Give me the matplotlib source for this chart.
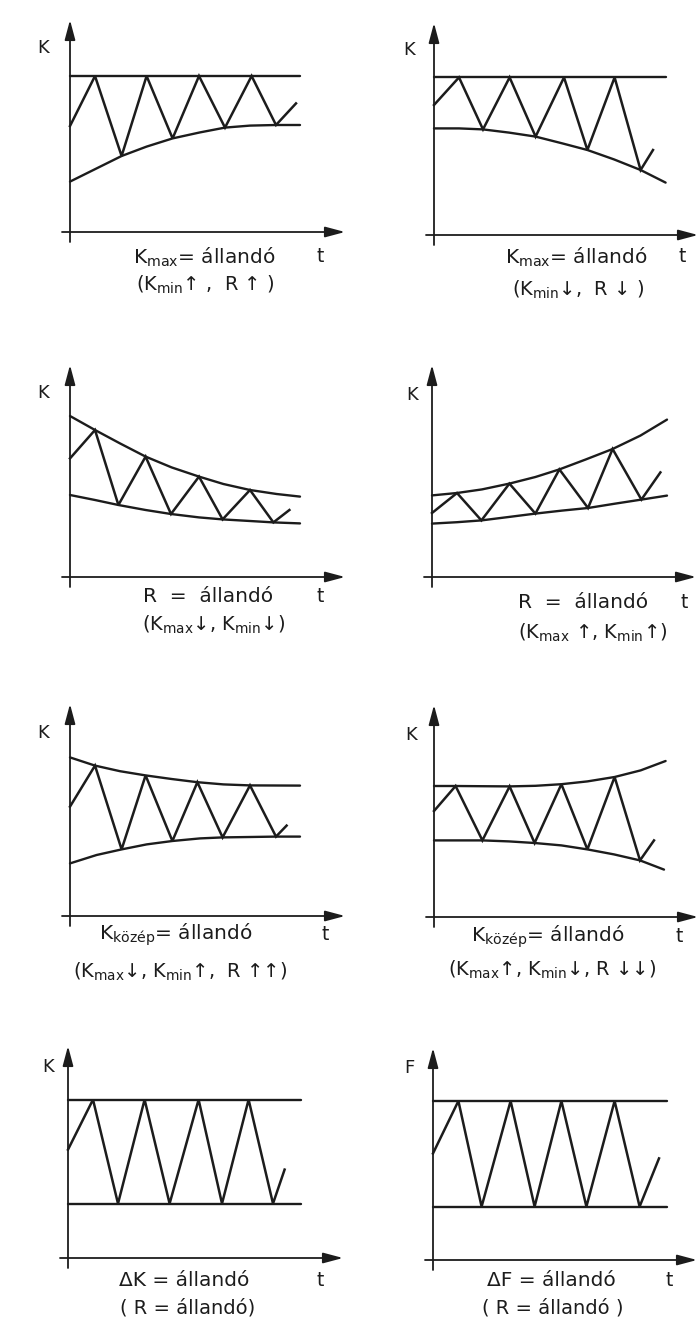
import matplotlib

matplotlib.use("Agg")
import matplotlib.pyplot as plt

# Nyolc vázlat: burkológörbék (felső/alsó) és a köztük futó fűrészfog-jel.
# Idő (t) és érték (K, F) tetszőleges egységekben, paneleként egy-egy lista.

UPPER_T = [
    [0, 11.5],
    [0, 11.58],
    [0, 1.25, 2.5, 3.78, 5.08, 6.45, 7.67, 9.0, 10.33, 11.5],
    [0, 1.25, 2.5, 3.87, 5.17, 6.37, 7.67, 9.03, 10.42, 11.75],
    [0, 1.25, 2.5, 3.78, 5.08, 6.37, 7.67, 9.0, 11.5],
    [0, 1.08, 2.33, 3.78, 5.08, 6.37, 7.67, 9.03, 10.33, 11.58],
    [0, 11.67],
    [0, 11.72],
]
UPPER_K = [
    [7.8, 7.8],
    [7.88, 7.88],
    [8.05, 7.35, 6.68, 6.02, 5.48, 5.02, 4.65, 4.35, 4.15, 4.02],
    [4.08, 4.2, 4.38, 4.67, 5.0, 5.38, 5.87, 6.4, 7.07, 7.87],
    [7.93, 7.52, 7.24, 7.03, 6.85, 6.69, 6.58, 6.53, 6.52],
    [6.55, 6.55, 6.54, 6.53, 6.56, 6.64, 6.78, 7.0, 7.33, 7.8],
    [7.92, 7.92],
    [7.95, 7.95],
]
LOWER_T = [
    [0, 1.33, 2.58, 3.83, 5.13, 6.5, 7.75, 9.0, 10.3, 11.5],
    [0, 1.25, 2.45, 3.75, 5.08, 6.42, 7.67, 9.0, 10.33, 11.58],
    [0, 1.25, 2.42, 3.78, 5.05, 6.45, 7.63, 9.0, 10.17, 11.5],
    [0, 1.25, 2.47, 3.83, 5.17, 6.5, 7.8, 9.17, 10.47, 11.75],
    [0, 1.33, 2.58, 3.83, 5.12, 6.5, 7.63, 9.0, 10.3, 11.5],
    [0, 2.42, 3.75, 5.03, 6.37, 7.67, 9.0, 10.3, 11.5],
    [0, 11.67],
    [0, 11.72],
]
LOWER_K = [
    [2.52, 3.18, 3.8, 4.27, 4.68, 4.98, 5.22, 5.32, 5.35, 5.35],
    [5.33, 5.33, 5.28, 5.12, 4.92, 4.58, 4.25, 3.78, 3.25, 2.62],
    [4.1, 3.85, 3.6, 3.35, 3.15, 2.98, 2.88, 2.8, 2.73, 2.68],
    [2.67, 2.74, 2.83, 3.0, 3.17, 3.32, 3.45, 3.67, 3.87, 4.07],
    [2.63, 3.05, 3.33, 3.58, 3.75, 3.88, 3.93, 3.95, 3.97, 3.97],
    [3.83, 3.83, 3.78, 3.7, 3.58, 3.38, 3.13, 2.83, 2.37],
    [2.72, 2.72],
    [2.67, 2.67],
]
ZIG_T = [
    [0, 1.25, 2.58, 3.83, 5.13, 6.45, 7.75, 9.08, 10.3, 11.3],
    [0, 1.25, 2.45, 3.78, 5.08, 6.5, 7.67, 9.03, 10.33, 10.95],
    [0, 1.25, 2.42, 3.78, 5.05, 6.45, 7.63, 9.0, 10.17, 10.97],
    [0, 1.25, 2.47, 3.87, 5.17, 6.37, 7.8, 9.03, 10.47, 11.42],
    [0, 1.25, 2.58, 3.78, 5.12, 6.37, 7.63, 9.0, 10.3, 10.83],
    [0, 1.08, 2.42, 3.78, 5.03, 6.37, 7.67, 9.03, 10.3, 11.0],
    [0, 1.25, 2.5, 3.83, 5.08, 6.53, 7.7, 9.03, 10.25, 10.83],
    [0, 1.27, 2.43, 3.88, 5.08, 6.42, 7.67, 9.08, 10.33, 11.3],
]
ZIG_K = [
    [5.3, 7.8, 3.8, 7.8, 4.68, 7.8, 5.22, 7.8, 5.35, 6.43],
    [6.5, 7.88, 5.28, 7.88, 4.92, 7.88, 4.25, 7.88, 3.25, 4.25],
    [5.93, 7.35, 3.6, 6.02, 3.15, 5.02, 2.88, 4.35, 2.73, 3.35],
    [3.2, 4.2, 2.83, 4.67, 3.17, 5.38, 3.45, 6.4, 3.87, 5.23],
    [5.47, 7.52, 3.33, 7.03, 3.75, 6.69, 3.93, 6.53, 3.97, 4.52],
    [5.3, 6.55, 3.83, 6.53, 3.7, 6.64, 3.38, 7.0, 2.83, 3.83],
    [5.42, 7.92, 2.72, 7.92, 2.72, 7.92, 2.72, 7.92, 2.72, 4.42],
    [5.33, 7.95, 2.67, 7.95, 2.67, 7.95, 2.67, 7.95, 2.67, 5.08],
]

Y_LABELS = ["K", "K", "K", "K", "K", "K", "K", "F"]
CAPTION_1 = [
    "K$_{max}$= állandó",
    "K$_{max}$= állandó",
    "R  =  állandó",
    "R  =  állandó",
    "K$_{közép}$= állandó",
    "K$_{közép}$= állandó",
    "ΔK = állandó",
    "ΔF = állandó",
]
CAPTION_2 = [
    "(K$_{min}$↑ ,  R ↑ )",
    "(K$_{min}$↓,  R ↓ )",
    "(K$_{max}$↓, K$_{min}$↓)",
    "(K$_{max}$ ↑, K$_{min}$↑)",
    "(K$_{max}$↓, K$_{min}$↑,  R ↑↑)",
    "(K$_{max}$↑, K$_{min}$↓, R ↓↓)",
    "( R = állandó)",
    "( R = állandó )",
]

# elrendezés: a tengelyek origója pixelben, valamint a feliratok helye (t, K egységben)
ORIGINS = [(70, 232), (434, 235), (70, 577), (432, 577),
           (70, 916), (434, 917), (68, 1258), (433, 1260)]
YLAB_POS = [(-1.35, 9.2), (-1.25, 9.25), (-1.35, 9.2), (-1.0, 9.1),
            (-1.35, 9.15), (-1.15, 9.1), (-1.0, 9.55), (-1.2, 9.6)]
CAP1_POS = [(6.7, -1.25), (7.1, -1.1), (6.9, -1.0), (7.55, -1.3),
            (5.3, -0.95), (5.7, -1.0), (5.8, -1.1), (5.9, -1.0)]
CAP2_POS = [(6.75, -2.65), (7.2, -2.75), (7.2, -2.4), (8.05, -2.8),
            (5.5, -2.8), (5.9, -2.65), (6.0, -2.5), (6.0, -2.4)]
T_POS = [(12.5, -1.25), (12.4, -1.1), (12.5, -1.0), (12.6, -1.3),
         (12.75, -0.95), (12.25, -1.0), (12.6, -1.1), (11.8, -1.0)]

W, H = 699, 1320
PX = 20.0  # pixel / egység
INK = "#1c1c1c"

plt.rcParams["font.family"] = ["DejaVu Sans"]
plt.rcParams["mathtext.default"] = "regular"

fig = plt.figure(figsize=(W / 100, H / 100), dpi=100)
fig.patch.set_facecolor("white")

for i, (ox, oy) in enumerate(ORIGINS):
    ax = fig.add_axes([(ox - 20) / W, 1 - (oy + 85) / H, 300 / W, 310 / H])
    ax.set_xlim(-20 / PX, 280 / PX)
    ax.set_ylim(-85 / PX, 225 / PX)
    ax.axis("off")

    x_tip = 13.75 if ox < 300 else 13.2
    arrow = dict(arrowstyle="-|>,head_length=0.6,head_width=0.16",
                 lw=1.3, color=INK, mutation_scale=20,
                 shrinkA=0, shrinkB=0)
    ax.annotate("", xy=(0, 10.6), xytext=(0, -0.5), arrowprops=arrow,
                annotation_clip=False)
    ax.annotate("", xy=(x_tip, 0), xytext=(-0.4, 0), arrowprops=arrow,
                annotation_clip=False)

    ax.plot(UPPER_T[i], UPPER_K[i], color=INK, lw=1.7, solid_capstyle="round")
    ax.plot(LOWER_T[i], LOWER_K[i], color=INK, lw=1.7, solid_capstyle="round")
    ax.plot(ZIG_T[i], ZIG_K[i], color=INK, lw=1.8, solid_joinstyle="miter")

    ax.text(*YLAB_POS[i], Y_LABELS[i], fontsize=13, color=INK,
            ha="center", va="center")
    ax.text(*CAP1_POS[i], CAPTION_1[i], fontsize=14.5, color=INK,
            ha="center", va="center")
    ax.text(*CAP2_POS[i], CAPTION_2[i], fontsize=14, color=INK,
            ha="center", va="center")
    ax.text(*T_POS[i], "t", fontsize=13.5, color=INK,
            ha="center", va="center")

fig.savefig("out.png", dpi=100, facecolor="white")
